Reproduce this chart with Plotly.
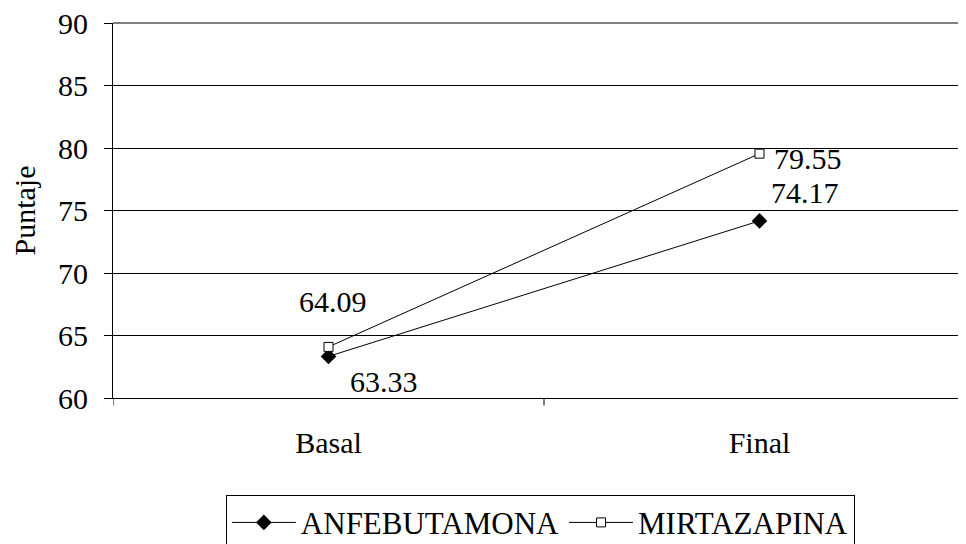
import plotly.graph_objects as go

categories = ["Basal", "Final"]
anfebutamona = [63.33, 74.17]
mirtazapina = [64.09, 79.55]
y_ticks = [60, 65, 70, 75, 80, 85, 90]

FONT = "Liberation Serif"

fig = go.Figure()
fig.add_trace(go.Scatter(
    x=[0, 1], y=anfebutamona, mode="lines+markers", name="ANFEBUTAMONA",
    line=dict(color="black", width=1),
    marker=dict(symbol="diamond", size=12, color="black"),
))
fig.add_trace(go.Scatter(
    x=[0, 1], y=mirtazapina, mode="lines+markers", name="MIRTAZAPINA",
    line=dict(color="black", width=1),
    marker=dict(symbol="square", size=9, color="white", line=dict(color="black", width=1)),
))

# data labels
offsets_a = [(55, -25), (45, 28)]
offsets_m = [(4, 45), (48, -5)]
for i, v in enumerate(anfebutamona):
    fig.add_annotation(x=i, y=v, text=f"{v:.2f}", showarrow=False,
                       xshift=offsets_a[i][0], yshift=offsets_a[i][1],
                       font=dict(family=FONT, size=30, color="black"))
for i, v in enumerate(mirtazapina):
    fig.add_annotation(x=i, y=v, text=f"{v:.2f}", showarrow=False,
                       xshift=offsets_m[i][0], yshift=offsets_m[i][1],
                       font=dict(family=FONT, size=30, color="black"))

fig.update_layout(
    width=958, height=536,
    margin=dict(l=105, r=0, t=15, b=146, autoexpand=False),
    paper_bgcolor="white", plot_bgcolor="white",
    font=dict(family=FONT, size=30, color="black"),
    showlegend=True,
    legend=dict(orientation="h", x=0.501, xanchor="center", y=-0.258, yanchor="top",
                bordercolor="black", borderwidth=1, font=dict(family=FONT, size=31),
                itemwidth=64, tracegroupgap=0),
    xaxis=dict(
        range=[-0.5, -0.5 + 853 / 431], tickmode="array", tickvals=[0, 1], ticktext=categories,
        showgrid=False, zeroline=False, showline=True, linecolor="black", linewidth=1,
        ticks="", tickfont=dict(family=FONT, size=30), ticklabelstandoff=18, automargin=False,
    ),
    yaxis=dict(
        range=[60, 90], tickmode="array", tickvals=y_ticks,
        showgrid=True, gridcolor="black", gridwidth=1, zeroline=False,
        showline=True, linecolor="black", linewidth=1,
        ticks="outside", ticklen=8, tickcolor="black", ticklabeloverflow="allow",
        tickfont=dict(family=FONT, size=30), ticklabelstandoff=10, automargin=False,
        title=dict(text="Puntaje", font=dict(family=FONT, size=30), standoff=24),
    ),
)

# top gridline at the edge of the plot area
fig.add_shape(type="line", xref="paper", yref="paper", x0=0, x1=1, y0=1, y1=1,
              line=dict(color="black", width=1))

# category separator ticks on x axis
for xv in [-0.5, 0.5, 1.5]:
    fig.add_shape(type="line", xref="x", yref="paper", x0=xv, x1=xv, y0=0, y1=-0.02,
                  line=dict(color="black", width=1))

fig.write_html("out.html")
